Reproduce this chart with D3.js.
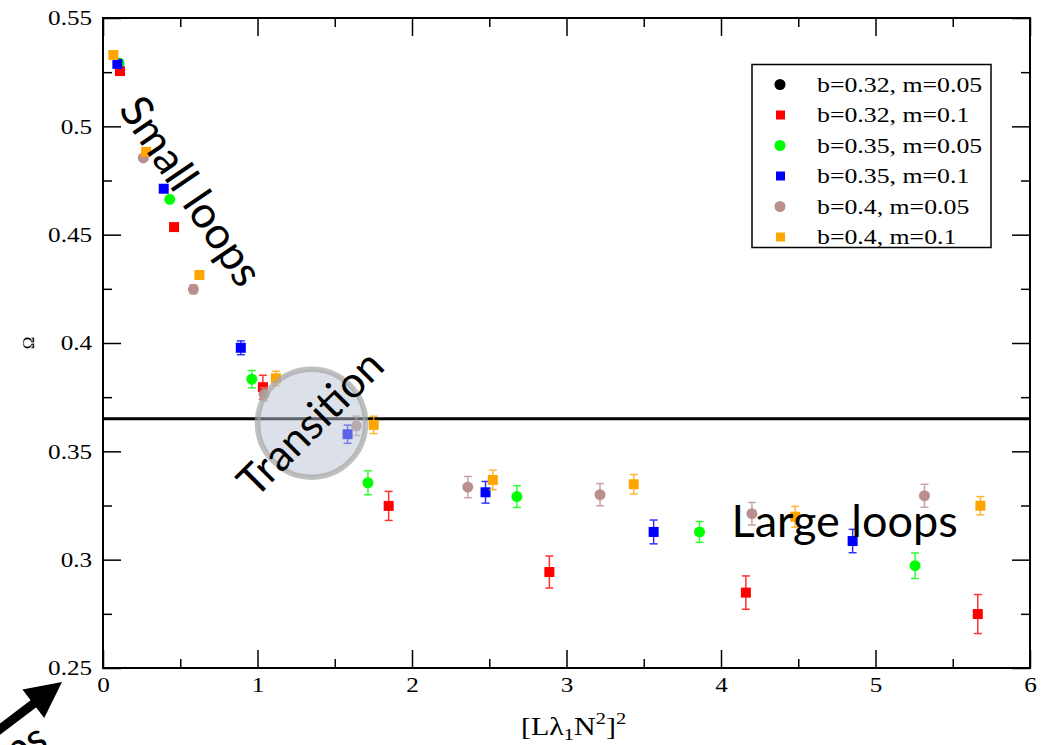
<!DOCTYPE html>
<html>
<head>
<meta charset="utf-8">
<script src="https://cdn.jsdelivr.net/npm/d3@7/dist/d3.min.js"></script>
<style>
  html, body { margin: 0; padding: 0; background: #fff; }
  svg { display: block; }
</style>
</head>
<body>
<svg id="chart" width="1048" height="745"></svg>
<script>
// ---- data -------------------------------------------------------------
const seriesNames = ["b=0.32, m=0.05", "b=0.32, m=0.1", "b=0.35, m=0.05",
                     "b=0.35, m=0.1", "b=0.4, m=0.05", "b=0.4, m=0.1"];
const seriesColors = ["#000000", "#ff0000", "#00ff00", "#0000ff", "#bc8f8f", "#ffa500"];
const seriesShapes = ["circle", "square", "circle", "square", "circle", "square"];

// b=0.32, m=0.05 (legend only)
const b032m005X = [];
const b032m005Y = [];
const b032m005E = [];

const b032m01X = [0.11, 0.46, 1.035, 1.849, 2.889, 4.161, 5.662];
const b032m01Y = [0.5255, 0.4535, 0.3796, 0.3248, 0.2943, 0.2848, 0.2749];
const b032m01E = [0.001, 0.001, 0.0055, 0.0067, 0.0074, 0.0077, 0.009];

const b035m005X = [0.104, 0.432, 0.963, 1.715, 2.679, 3.861, 5.256];
const b035m005Y = [0.5292, 0.4663, 0.3833, 0.3355, 0.3291, 0.3128, 0.2972];
const b035m005E = [0.001, 0.001, 0.004, 0.0055, 0.005, 0.0048, 0.0059];

const b035m01X = [0.093, 0.393, 0.892, 1.583, 2.476, 3.564, 4.852];
const b035m01Y = [0.5288, 0.4712, 0.3978, 0.3579, 0.3311, 0.3128, 0.3086];
const b035m01E = [0.001, 0.001, 0.0032, 0.0042, 0.005, 0.0055, 0.0054];

const b04m005X = [0.261, 0.585, 1.043, 1.64, 2.361, 3.217, 4.2, 5.317];
const b04m005Y = [0.4854, 0.4248, 0.3763, 0.3618, 0.3335, 0.33, 0.3212, 0.3295];
const b04m005E = [0.001, 0.002, 0.003, 0.0045, 0.0049, 0.0051, 0.0052, 0.0053];

const b04m01X = [0.067, 0.279, 0.624, 1.119, 1.752, 2.523, 3.435, 4.48, 5.679];
const b04m01Y = [0.5329, 0.4882, 0.4314, 0.3837, 0.3622, 0.3368, 0.3348, 0.3198, 0.3249];
const b04m01E = [0.001, 0.001, 0.001, 0.0033, 0.004, 0.0045, 0.0045, 0.0048, 0.0042];

const xMajorTicks = [0, 1, 2, 3, 4, 5, 6];
const xMinorTicks = [0.5, 1.5, 2.5, 3.5, 4.5, 5.5];
const yMajorTicks = [0.25, 0.3, 0.35, 0.4, 0.45, 0.5, 0.55];
const yMinorTicks = [0.275, 0.325, 0.375, 0.425, 0.475, 0.525];
const yTickLabels = ["0.25", "0.3", "0.35", "0.4", "0.45", "0.5", "0.55"];

const transitionLevel = 0.365;          // horizontal threshold line
const transitionCenter = [1.35, 0.363]; // shaded marker around the crossover

// ---- assemble series --------------------------------------------------
const allX = [b032m005X, b032m01X, b035m005X, b035m01X, b04m005X, b04m01X];
const allY = [b032m005Y, b032m01Y, b035m005Y, b035m01Y, b04m005Y, b04m01Y];
const allE = [b032m005E, b032m01E, b035m005E, b035m01E, b04m005E, b04m01E];
const series = seriesNames.map((name, i) => ({
  name, color: seriesColors[i], shape: seriesShapes[i],
  points: allX[i].map((xv, j) => ({ x: xv, y: allY[i][j], e: allE[i][j] }))
}));

// ---- layout -----------------------------------------------------------
const svg = d3.select("#chart");
const L = 103, R = 1030, T = 18, B = 668;
const x = d3.scaleLinear().domain([0, 6]).range([L, R]);
const y = d3.scaleLinear().domain([0.25, 0.55]).range([B, T]);
const SERIF = "'Liberation Serif', 'Times New Roman', Times, serif";
const SANS = "Lato, 'Open Sans', sans-serif";
const STRETCH = "scale(1.2,1)";

svg.append("rect").attr("width", 1048).attr("height", 745).attr("fill", "#fff");

// ---- axes (inward ticks on all four sides) ----------------------------
function styleAxis(g) {
  g.select(".domain").remove();
  g.selectAll(".tick line").attr("stroke", "#000").attr("stroke-width", 1.5);
}
const MAJ = 18, MIN = 9;

svg.append("g").attr("transform", `translate(0,${B})`)
  .call(d3.axisBottom(x).tickValues(xMajorTicks).tickSizeInner(-MAJ).tickSizeOuter(0)
        .tickPadding(9).tickFormat(d3.format("d")))
  .call(styleAxis)
  .call(g => g.selectAll("text").attr("font-family", SERIF).attr("font-size", 21)
        .attr("fill", "#000").attr("transform", STRETCH));
svg.append("g").attr("transform", `translate(0,${B})`)
  .call(d3.axisBottom(x).tickValues(xMinorTicks).tickSizeInner(-MIN).tickSizeOuter(0).tickFormat(""))
  .call(styleAxis);
svg.append("g").attr("transform", `translate(0,${T})`)
  .call(d3.axisTop(x).tickValues(xMajorTicks).tickSizeInner(-MAJ).tickSizeOuter(0).tickFormat(""))
  .call(styleAxis);
svg.append("g").attr("transform", `translate(0,${T})`)
  .call(d3.axisTop(x).tickValues(xMinorTicks).tickSizeInner(-MIN).tickSizeOuter(0).tickFormat(""))
  .call(styleAxis);

svg.append("g").attr("transform", `translate(${L},0)`)
  .call(d3.axisLeft(y).tickValues(yMajorTicks).tickSizeInner(-MAJ).tickSizeOuter(0)
        .tickPadding(9).tickFormat((d, i) => yTickLabels[i]))
  .call(styleAxis)
  .call(g => g.selectAll("text").attr("font-family", SERIF).attr("font-size", 21)
        .attr("fill", "#000").attr("transform", STRETCH));
svg.append("g").attr("transform", `translate(${L},0)`)
  .call(d3.axisLeft(y).tickValues(yMinorTicks).tickSizeInner(-MIN).tickSizeOuter(0).tickFormat(""))
  .call(styleAxis);
svg.append("g").attr("transform", `translate(${R},0)`)
  .call(d3.axisRight(y).tickValues(yMajorTicks).tickSizeInner(-MAJ).tickSizeOuter(0).tickFormat(""))
  .call(styleAxis);
svg.append("g").attr("transform", `translate(${R},0)`)
  .call(d3.axisRight(y).tickValues(yMinorTicks).tickSizeInner(-MIN).tickSizeOuter(0).tickFormat(""))
  .call(styleAxis);

// frame
svg.append("rect").attr("x", L).attr("y", T).attr("width", R - L).attr("height", B - T)
  .attr("fill", "none").attr("stroke", "#000").attr("stroke-width", 2);

// axis titles
svg.append("text")
  .attr("transform", `translate(${28},${343}) rotate(-90)`)
  .attr("text-anchor", "middle").attr("dominant-baseline", "central")
  .attr("font-family", SERIF).attr("font-size", 17).text("Ω");

const xt = svg.append("g").attr("transform", `translate(${521},${735}) ${STRETCH}`)
  .append("text").attr("font-family", SERIF).attr("font-size", 25).attr("fill", "#000");
xt.append("tspan").text("[Lλ");
xt.append("tspan").attr("font-size", 17).attr("dy", 5).text("1");
xt.append("tspan").attr("dy", -5).text("N");
xt.append("tspan").attr("font-size", 17).attr("dy", -11).text("2");
xt.append("tspan").attr("dy", 11).text("]");
xt.append("tspan").attr("font-size", 17).attr("dy", -11).text("2");

// ---- threshold line ---------------------------------------------------
svg.append("line")
  .attr("x1", x(0)).attr("x2", x(6))
  .attr("y1", y(transitionLevel)).attr("y2", y(transitionLevel))
  .attr("stroke", "#000").attr("stroke-width", 3);

// ---- data: error bars + markers ---------------------------------------
const SQ = 10, CR = 5.5, CAP = 4;
series.forEach(s => {
  const g = svg.append("g");
  const eb = g.selectAll("g.eb").data(s.points).join("g")
    .attr("stroke", s.color).attr("stroke-width", 1.5).attr("opacity", 0.8);
  eb.append("line").attr("x1", d => x(d.x)).attr("x2", d => x(d.x))
    .attr("y1", d => y(d.y + d.e)).attr("y2", d => y(d.y - d.e));
  eb.append("line").attr("x1", d => x(d.x) - CAP).attr("x2", d => x(d.x) + CAP)
    .attr("y1", d => y(d.y + d.e)).attr("y2", d => y(d.y + d.e));
  eb.append("line").attr("x1", d => x(d.x) - CAP).attr("x2", d => x(d.x) + CAP)
    .attr("y1", d => y(d.y - d.e)).attr("y2", d => y(d.y - d.e));
  if (s.shape === "circle") {
    g.selectAll("circle").data(s.points).join("circle")
      .attr("cx", d => x(d.x)).attr("cy", d => y(d.y)).attr("r", CR).attr("fill", s.color);
  } else {
    g.selectAll("rect").data(s.points).join("rect")
      .attr("x", d => x(d.x) - SQ / 2).attr("y", d => y(d.y) - SQ / 2)
      .attr("width", SQ).attr("height", SQ).attr("fill", s.color);
  }
});

// ---- transition marker ------------------------------------------------
svg.append("circle")
  .attr("cx", x(transitionCenter[0])).attr("cy", y(transitionCenter[1])).attr("r", 54)
  .attr("fill", "rgba(185,196,212,0.5)")
  .attr("stroke", "rgba(165,165,165,0.7)").attr("stroke-width", 5.5);

// ---- annotations ------------------------------------------------------
function note(txt, cx, cy, angle, size) {
  svg.append("text")
    .attr("transform", `translate(${cx},${cy}) rotate(${angle})`)
    .attr("text-anchor", "middle").attr("dominant-baseline", "central")
    .attr("font-family", SANS).attr("font-size", size).attr("fill", "#000").text(txt);
}
note("Small loops", x(0.58), y(0.4705), 56, 44);
note("Transition", x(1.335), y(0.3635), -45, 43);
note("Large loops", x(4.80), y(0.3185), 0, 45);

// arrow in the lower-left corner
const tip = [62, 682];
const ang = Math.atan2(-20.5, 27);
const ux = Math.cos(ang), uy = Math.sin(ang);
const hl = 36, hw = 18;
const base = [tip[0] - ux * hl, tip[1] - uy * hl];
svg.append("line")
  .attr("x1", base[0] - ux * 90).attr("y1", base[1] - uy * 90)
  .attr("x2", base[0] + ux * 2).attr("y2", base[1] + uy * 2)
  .attr("stroke", "#000").attr("stroke-width", 9);
svg.append("path")
  .attr("d", `M${tip[0]},${tip[1]} L${base[0] - uy * hw},${base[1] + ux * hw} L${base[0] + uy * hw},${base[1] - ux * hw} Z`)
  .attr("fill", "#000");
svg.append("text")
  .attr("transform", `translate(${50},${747}) rotate(-28)`)
  .attr("text-anchor", "end").attr("font-family", SANS).attr("font-size", 42)
  .attr("fill", "#000").text("loops");

// ---- legend -----------------------------------------------------------
const lg = svg.append("g");
lg.append("rect").attr("x", 752).attr("y", 64.5).attr("width", 239).attr("height", 183)
  .attr("fill", "#fff").attr("stroke", "#000").attr("stroke-width", 1.5);
series.forEach((s, i) => {
  const cy = 84.5 + i * 30.5;
  if (s.shape === "circle") {
    lg.append("circle").attr("cx", 780).attr("cy", cy).attr("r", 5.5).attr("fill", s.color);
  } else {
    lg.append("rect").attr("x", 776).attr("y", cy - 4.5).attr("width", 9).attr("height", 9)
      .attr("fill", s.color);
  }
  lg.append("g").attr("transform", `translate(817,${cy + 7}) ${STRETCH}`)
    .append("text").attr("font-family", SERIF).attr("font-size", 21.5).attr("fill", "#000")
    .text(s.name);
});
</script>
</body>
</html>
